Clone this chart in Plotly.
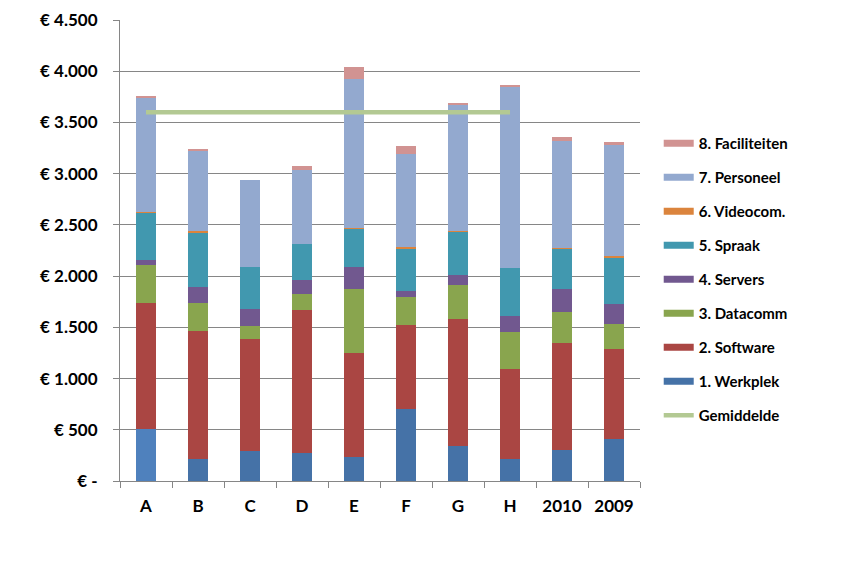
import plotly.graph_objects as go

categories = ["A", "B", "C", "D", "E", "F", "G", "H", "2010", "2009"]

werkplek     = [510, 210, 295, 275, 235, 705, 345, 210, 305, 410]
software     = [1230, 1250, 1095, 1390, 1015, 820, 1240, 885, 1045, 880]
datacomm     = [370, 275, 125, 165, 625, 275, 330, 360, 300, 245]
servers      = [50, 155, 165, 135, 215, 50, 100, 155, 225, 195]
spraak       = [460, 535, 410, 350, 370, 420, 420, 470, 390, 455]
videocom     = [10, 13, 0, 3, 13, 18, 3, 0, 12, 9]
personeel    = [1110, 790, 845, 715, 1450, 900, 1240, 1770, 1045, 1085]
faciliteiten = [10, 13, 0, 40, 115, 78, 13, 13, 40, 27]

avg_categories = ["A", "B", "C", "D", "E", "F", "G", "H"]
gemiddelde = [3600] * 8

tick_vals = [0, 500, 1000, 1500, 2000, 2500, 3000, 3500, 4000, 4500]
tick_text = ["€ -", "€ 500", "€ 1.000", "€ 1.500", "€ 2.000", "€ 2.500",
             "€ 3.000", "€ 3.500", "€ 4.000", "€ 4.500"]

series = [
    ("1. Werkplek", werkplek, "#4572A7"),
    ("2. Software", software, "#AA4643"),
    ("3. Datacomm", datacomm, "#89A54E"),
    ("4. Servers", servers, "#71588F"),
    ("5. Spraak", spraak, "#4198AF"),
    ("6. Videocom.", videocom, "#DB843D"),
    ("7. Personeel", personeel, "#93A9CF"),
    ("8. Faciliteiten", faciliteiten, "#D19392"),
]

fig = go.Figure()
for name, vals, col in series:
    colors = [col] * len(categories)
    if name == "1. Werkplek":
        colors[0] = "#4F81BD"
    fig.add_trace(go.Bar(x=categories, y=vals, name=name, marker_color=colors,
                         marker_line_width=0, showlegend=False))

# legend entries (line-style swatches), top-down order 8..1
for i, (name, vals, col) in enumerate(reversed(series)):
    fig.add_trace(go.Scatter(x=[None], y=[None], mode="lines", name=name,
                             line=dict(color=col, width=7),
                             legendgroup="g%d" % i, showlegend=True))

fig.add_trace(go.Scatter(x=avg_categories, y=gemiddelde, mode="lines", name="Gemiddelde",
                         line=dict(color="#B3C993", width=4.5),
                         legendgroup="gavg", showlegend=True))

fig.update_layout(
    barmode="stack",
    bargap=0.6,
    width=860, height=558,
    margin=dict(l=112, r=228, t=12, b=85, autoexpand=False),
    paper_bgcolor="white", plot_bgcolor="white",
    font=dict(family="Lato, Liberation Sans, sans-serif", color="#000000"),
    legend=dict(x=1.036, xanchor="left", y=0.437, yanchor="middle",
                traceorder="grouped", tracegroupgap=11.5,
                font=dict(size=15, family="Lato", weight="bold"),
                bgcolor="rgba(0,0,0,0)"),
    showlegend=True,
)

fig.update_yaxes(range=[0, 4500], tickvals=tick_vals, ticktext=tick_text,
                 showgrid=True, gridcolor="#868686", gridwidth=1,
                 showline=True, linecolor="#868686", linewidth=1,
                 ticks="outside", ticklen=6, tickcolor="#868686",
                 ticklabelstandoff=12, automargin=False,
                 tickfont=dict(size=17, family="Lato", weight="bold"),
                 zeroline=False)
fig.update_xaxes(showline=True, linecolor="#868686", linewidth=1,
                 ticks="outside", ticklen=6, tickcolor="#868686",
                 tickson="boundaries", ticklabelstandoff=10, automargin=False,
                 tickfont=dict(size=17, family="Lato", weight="bold"),
                 showgrid=False)

fig.write_html("out.html")
